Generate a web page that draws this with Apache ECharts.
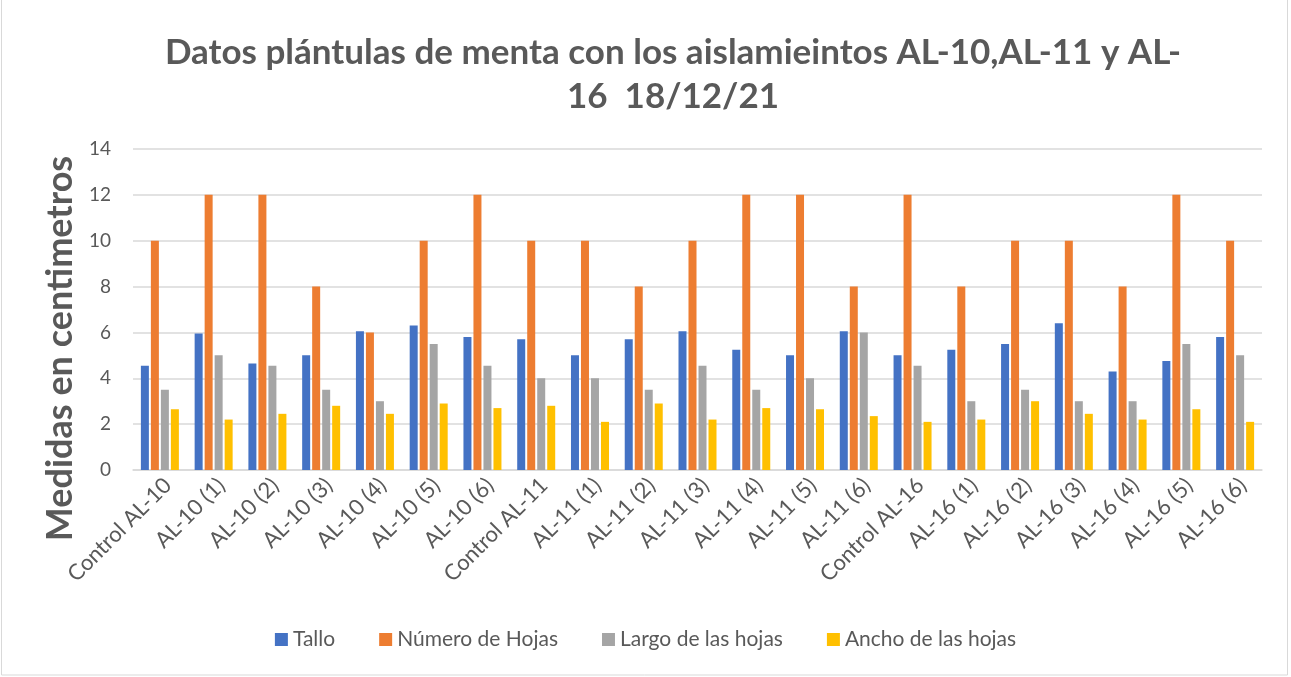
<!DOCTYPE html>
<html>
<head>
<meta charset="utf-8">
<script src="https://cdn.jsdelivr.net/npm/echarts@6/dist/echarts.min.js"></script>
<style>
  html, body { margin: 0; padding: 0; background: #fff; }
  #chart { width: 1291px; height: 677px; }
</style>
</head>
<body>
<div id="chart"></div>
<script>
const categories = [
  'Control AL-10', 'AL-10 (1)', 'AL-10 (2)', 'AL-10 (3)', 'AL-10 (4)', 'AL-10 (5)', 'AL-10 (6)',
  'Control AL-11', 'AL-11 (1)', 'AL-11 (2)', 'AL-11 (3)', 'AL-11 (4)', 'AL-11 (5)', 'AL-11 (6)',
  'Control AL-16', 'AL-16 (1)', 'AL-16 (2)', 'AL-16 (3)', 'AL-16 (4)', 'AL-16 (5)', 'AL-16 (6)'
];
const tallo = [4.55, 5.95, 4.65, 5, 6.05, 6.3, 5.8, 5.7, 5, 5.7, 6.05, 5.25, 5, 6.05, 5, 5.25, 5.5, 6.4, 4.3, 4.75, 5.8];
const numeroHojas = [10, 12, 12, 8, 6, 10, 12, 10, 10, 8, 10, 12, 12, 8, 12, 8, 10, 10, 8, 12, 10];
const largoHojas = [3.5, 5, 4.55, 3.5, 3, 5.5, 4.55, 4, 4, 3.5, 4.55, 3.5, 4, 6, 4.55, 3, 3.5, 3, 3, 5.5, 5];
const anchoHojas = [2.65, 2.2, 2.45, 2.8, 2.45, 2.9, 2.7, 2.8, 2.1, 2.9, 2.2, 2.7, 2.65, 2.35, 2.1, 2.2, 3, 2.45, 2.2, 2.65, 2.1];
const yTicks = { min: 0, max: 14, interval: 2 };

const seriesDefs = [
  { name: 'Tallo', data: tallo, color: '#4472C4' },
  { name: 'Número de Hojas', data: numeroHojas, color: '#ED7D31' },
  { name: 'Largo de las hojas', data: largoHojas, color: '#A5A5A5' },
  { name: 'Ancho de las hojas', data: anchoHojas, color: '#FFC000' }
];

const FONT = 'Lato';
const chart = echarts.init(document.getElementById('chart'));
chart.setOption({
  animation: false,
  textStyle: { fontFamily: FONT },
  title: {
    text: 'Datos plántulas de menta con los aislamieintos AL-10,AL-11 y AL-\n16  18/12/21',
    left: 668,
    textAlign: 'center',
    top: 26,
    textStyle: { fontFamily: FONT, fontSize: 35, fontWeight: 'bold', color: '#595959', lineHeight: 44 }
  },
  graphic: [{
    type: 'rect',
    shape: { x: 1.5, y: -5, width: 1286, height: 680 },
    style: { fill: 'none', stroke: '#D9D9D9', lineWidth: 1 },
    silent: true
  }],
  legend: {
    bottom: 22,
    left: 'center',
    itemWidth: 13,
    itemHeight: 13,
    itemGap: 44,
    icon: 'rect',
    textStyle: { fontFamily: FONT, fontSize: 21, color: '#595959' },
    data: seriesDefs.map(s => s.name)
  },
  grid: { left: 133, right: 29, top: 149, bottom: 207 },
  xAxis: {
    type: 'category',
    data: categories,
    axisLine: { lineStyle: { color: '#D9D9D9', width: 1.5 } },
    axisTick: { show: false },
    axisLabel: { rotate: 45, fontSize: 22, color: '#595959', margin: 4, verticalAlign: 'top', interval: 0 }
  },
  yAxis: {
    type: 'value',
    min: yTicks.min,
    max: yTicks.max,
    interval: yTicks.interval,
    name: 'Medidas en centimetros',
    nameLocation: 'middle',
    nameGap: 54,
    nameTextStyle: { fontSize: 36, fontWeight: 'bold', color: '#595959', padding: [0, 78, 0, 0] },
    axisLine: { show: false },
    axisTick: { show: false },
    axisLabel: { fontSize: 19, color: '#595959', margin: 22 },
    splitLine: { lineStyle: { color: '#D9D9D9', width: 1.5 } }
  },
  series: seriesDefs.map(s => ({
    name: s.name,
    type: 'bar',
    data: s.data,
    barWidth: 8,
    barGap: '25%',
    itemStyle: { color: s.color }
  }))
});
</script>
</body>
</html>
